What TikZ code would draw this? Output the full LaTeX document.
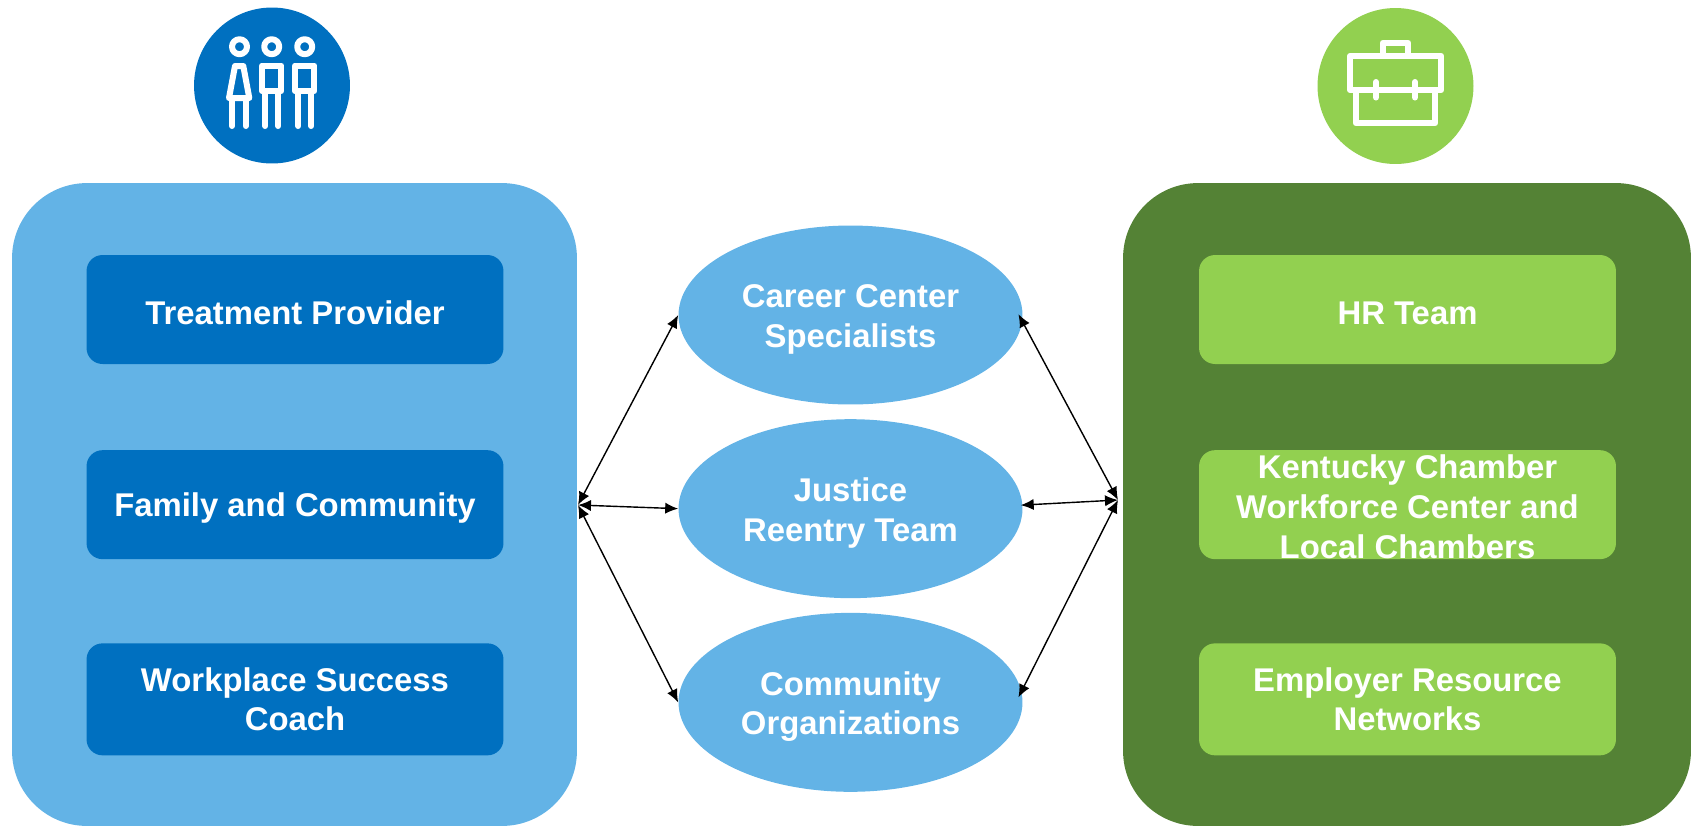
\documentclass[tikz,border=0pt]{standalone}
\usepackage{fontspec}
\setmainfont{Liberation Sans}
\usetikzlibrary{arrows.meta, positioning, shapes.geometric}
\definecolor{lightblue}{HTML}{63B3E6}
\definecolor{darkblue}{HTML}{0070C0}
\definecolor{lightgreen}{HTML}{92D050}
\definecolor{darkgreen}{HTML}{548235}
\tikzset{
    panel/.style={rectangle, rounded corners=1.5cm, minimum width=11.3cm, minimum height=12.86cm, inner sep=0pt},
    bluebox/.style={rectangle, fill=darkblue, rounded corners=0.32cm, minimum width=8.34cm, minimum height=2.18cm, inner sep=0pt, mytext},
    greenbox/.style={rectangle, fill=lightgreen, rounded corners=0.32cm, minimum width=8.34cm, minimum height=2.18cm, inner sep=0pt, mytext},
    myellipse/.style={ellipse, fill=lightblue, minimum width=6.88cm, minimum height=3.58cm, inner sep=0pt},
    mytext/.style={text=white, align=center, font=\fontsize{18.7}{22.5}\selectfont\bfseries},
    mylabel/.style={mytext, yshift=-2.4pt},
    lowertext/.style={execute at begin node={\rule{0pt}{#1}}},
    badge/.style={circle, minimum size=3.12cm, inner sep=0pt},
    myicon/.style={draw=white, line width=0.12cm, line join=round},
    myarrow/.style={{Latex[length=7.4pt,width=6.4pt]}-{Latex[length=7.4pt,width=6.4pt]}, line width=0.8pt}
}
\begin{document}
\begin{tikzpicture}[x=0.02cm, y=-0.02cm, node distance=1.71cm]

        \useasboundingbox (0,0) rectangle (1694,826);

        % ------------------
        % panels
        % ------------------

        \node[panel, fill=lightblue] (leftpanel) at (294.5,504.5) {};
        \node[panel, fill=darkgreen, minimum width=11.36cm] (rightpanel) at (1407,504.5) {};

        % ------------------
        % nodes
        % ------------------

        \node[bluebox, lowertext=17pt] (treatment) at (295,309.5) {Treatment Provider};
        \node[bluebox, lowertext=17pt, below=of treatment] (family) {Family and Community};
        \node[bluebox, minimum height=2.24cm, below=1.67cm of family] (workplace) {Workplace Success\\Coach};

        \node[greenbox, lowertext=17pt] (hrteam) at (1407.5,309.5) {HR Team};
        \node[greenbox, below=of hrteam] (chamber) {};
        \node[mytext, yshift=-1.2pt] (chambertext) at (chamber) {Kentucky Chamber\\Workforce Center and\\Local Chambers};
        \node[greenbox, minimum height=2.24cm, below=1.67cm of chamber] (networks) {Employer Resource\\Networks};

        \node[myellipse] (career) at (850.5,315) {};
        \node[myellipse, below=0.28cm of career] (justice) {};
        \node[myellipse, below=0.28cm of justice] (community) {};

        \node[mylabel] (careertext) at (career) {Career Center\\Specialists};
        \node[mylabel] (justicetext) at (justice) {Justice\\Reentry Team};
        \node[mylabel] (communitytext) at (community) {Community\\Organizations};

        \coordinate (lefthub) at (578,505);
        \coordinate (righthub) at (1118,500);

        % ------------------
        % arrows
        % ------------------

        \draw[myarrow] (lefthub) to (career.west);
        \draw[myarrow] (lefthub) to (justice.west);
        \draw[myarrow] (lefthub) to (community.west);

        \draw[myarrow] (righthub) to ([xshift=-2.5pt, yshift=0.5pt]career.east);
        \draw[myarrow] (righthub) to ([xshift=-1.2pt, yshift=2pt]justice.east);
        \draw[myarrow] (righthub) to ([xshift=-2.5pt, yshift=2.8pt]community.east);

        % ------------------
        % people icon
        % ------------------

        \node[badge, fill=darkblue] (peoplebadge) at (272,85.5) {};
        \draw[myicon] (239.5,46.7) circle (7.5);
        \draw[myicon] (235,66) -- (243.3,66) -- (249.3,98) -- (229,98) -- cycle;
        \draw[myicon, line cap=round] (232,98) -- (232,126) (245.7,98) -- (245.7,126);
        \foreach \x in {271.7,304.7} {
            \draw[myicon] (\x,46.7) circle (7.5);
            \draw[myicon] (\x-9.7,65.5) rectangle (\x+9.7,91);
            \draw[myicon, line cap=round] (\x-6.5,91) -- (\x-6.5,126) (\x+6.5,91) -- (\x+6.5,126);
        }

        % ------------------
        % briefcase icon
        % ------------------

        \node[badge, fill=lightgreen] (casebadge) at (1395.5,86) {};
        \draw[myicon] (1350,56) rectangle (1441.3,90);
        \draw[myicon] (1356,90) -- (1356,123.3) -- (1435,123.3) -- (1435,90);
        \draw[myicon] (1382.7,56) -- (1382.7,42.7) -- (1408.3,42.7) -- (1408.3,56);
        \draw[myicon, line cap=round] (1376,82) -- (1376,97.5) (1415,82) -- (1415,97.5);

\end{tikzpicture}
\end{document}
